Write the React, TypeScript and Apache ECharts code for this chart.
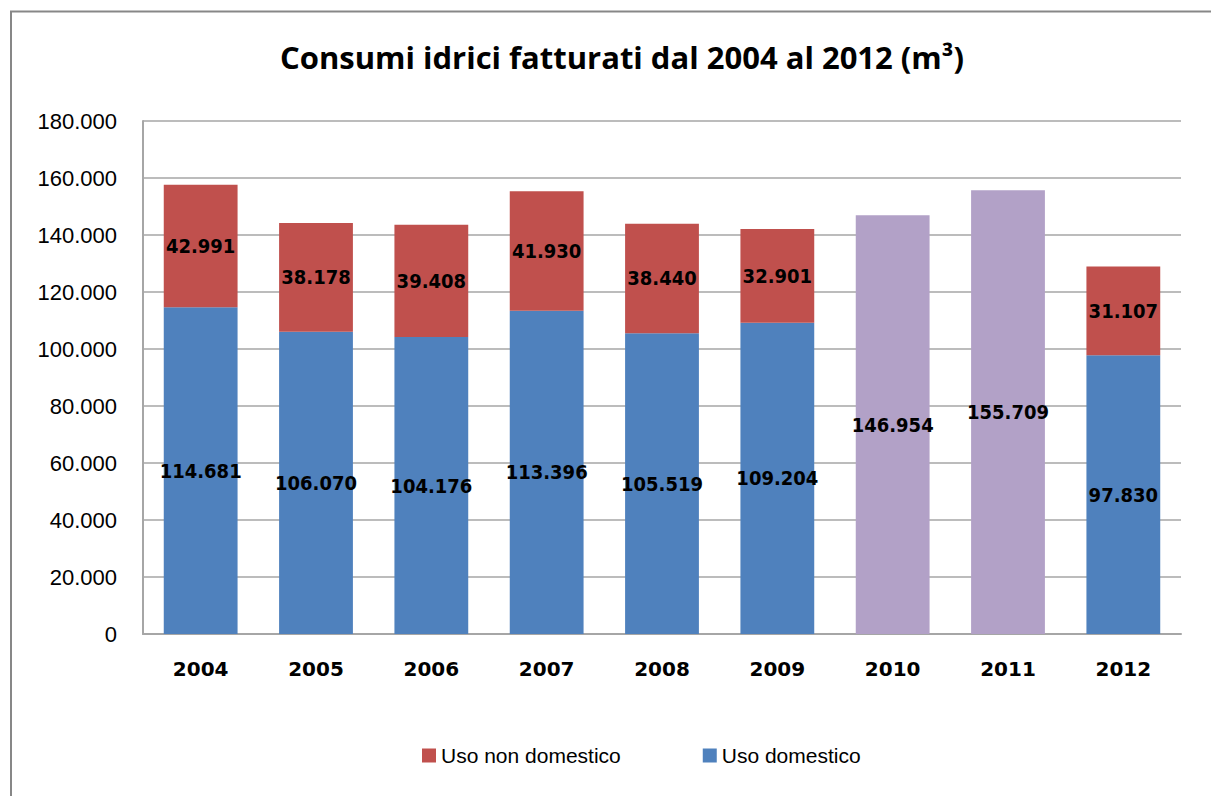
import React, { useEffect, useRef } from "react";
import * as echarts from "echarts";

const years = ["2004", "2005", "2006", "2007", "2008", "2009", "2010", "2011", "2012"];
const usoDomestico: (number | null)[] = [114681, 106070, 104176, 113396, 105519, 109204, null, null, 97830];
const usoNonDomestico: (number | null)[] = [42991, 38178, 39408, 41930, 38440, 32901, null, null, 31107];
const totaleNonRipartito: (number | null)[] = [null, null, null, null, null, null, 146954, 155709, null];
const legendNames = ["Uso non domestico", "Uso domestico"];
const titleText = "Consumi idrici fatturati dal 2004 al 2012 (m³)";

const fmt = (v: number) => String(Math.round(v)).replace(/\B(?=(\d{3})+(?!\d))/g, ".");

export default function App() {
  const ref = useRef<HTMLDivElement>(null);
  useEffect(() => {
    if (!ref.current) return;
    const chart = echarts.init(ref.current, undefined, { renderer: "svg" });
    const labelStyle = {
      show: true,
      position: "inside" as const,
      color: "#000",
      fontWeight: "bold" as const,
      fontSize: 20,
      fontFamily: "'DejaVu Sans Condensed', 'DejaVu Sans', sans-serif",
      formatter: (p: any) => (p.value == null ? "" : fmt(p.value)),
    };
    chart.setOption({
      animation: false,
      backgroundColor: "#fff",
      title: {
        text: titleText,
        left: 617,
        top: 36,
        textAlign: "center",
        textStyle: { fontFamily: "'Open Sans', sans-serif", fontWeight: "bold", fontSize: 31, color: "#000" },
      },
      graphic: [
        {
          type: "polyline",
          shape: { points: [[11, 796], [11, 11.5], [1211, 11.5]] },
          style: { fill: "none", stroke: "#878787", lineWidth: 2 },
          silent: true,
        },
      ],
      legend: {
        data: legendNames,
        left: 417,
        top: 740,
        itemWidth: 14,
        itemHeight: 14,
        itemGap: 82,
        textStyle: { fontFamily: "'Liberation Sans', sans-serif", fontSize: 21, color: "#000" },
        icon: "rect",
      },
      grid: { left: 143, right: 30, top: 121, bottom: 162 },
      xAxis: {
        type: "category",
        data: years,
        axisLine: { lineStyle: { color: "#A6A6A6", width: 2 } },
        axisTick: { show: false },
        axisLabel: {
          margin: 25,
          color: "#000",
          fontWeight: "bold",
          fontSize: 20,
          fontFamily: "'DejaVu Sans', sans-serif",
        },
      },
      yAxis: {
        type: "value",
        min: 0,
        max: 180000,
        interval: 20000,
        axisLine: { show: true, lineStyle: { color: "#A6A6A6", width: 2 } },
        axisTick: { show: false },
        splitLine: { lineStyle: { color: "#A6A6A6", width: 1.5 } },
        axisLabel: {
          margin: 26,
          color: "#000",
          fontSize: 22,
          fontFamily: "'Liberation Sans', sans-serif",
          formatter: (v: number) => fmt(v),
        },
      },
      series: [
        {
          name: "Uso domestico",
          type: "bar",
          stack: "tot",
          data: usoDomestico,
          barCategoryGap: "36%",
          itemStyle: { color: "#4F81BD" },
          label: labelStyle,
        },
        {
          name: "Uso non domestico",
          type: "bar",
          stack: "tot",
          data: usoNonDomestico,
          itemStyle: { color: "#C0504D" },
          label: labelStyle,
        },
        {
          name: "Totale",
          type: "bar",
          stack: "tot",
          data: totaleNonRipartito,
          itemStyle: { color: "#B2A1C7" },
          label: labelStyle,
        },
      ],
    });
    return () => chart.dispose();
  }, []);
  return <div ref={ref} style={{ position: "fixed", left: 0, top: 0, width: 1211, height: 796 }} />;
}
